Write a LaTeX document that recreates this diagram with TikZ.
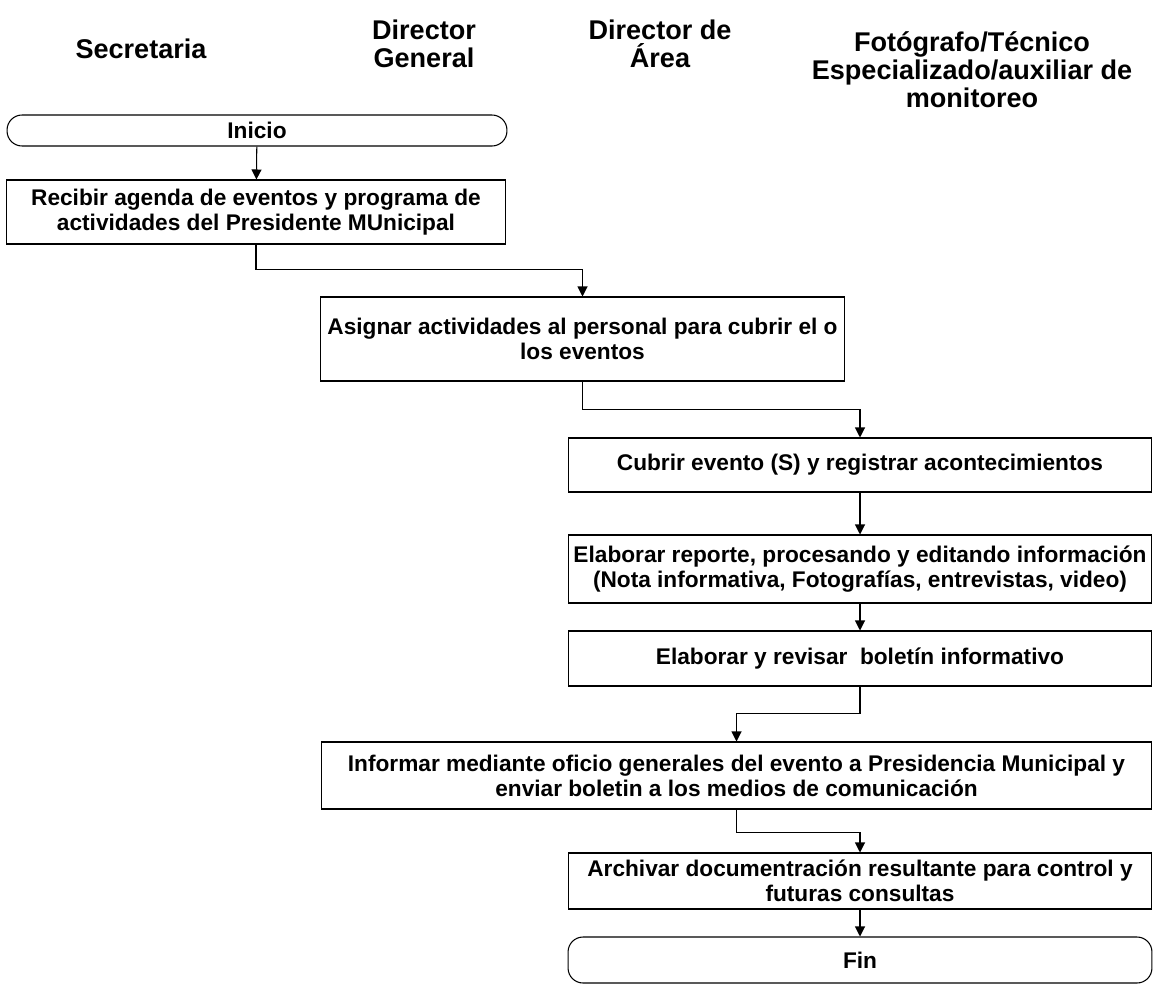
\documentclass[tikz,border=0pt]{standalone}
\usepackage{fontspec}
\setmainfont{Liberation Sans}
\usepackage{tikz}
\usetikzlibrary{arrows.meta,positioning,shapes}

\begin{document}
\begin{tikzpicture}[
		x=0.02cm, y=-0.02cm,
		proceso/.style={rectangle, draw, line width=0.6pt, align=center, inner sep=0pt,
			font=\fontsize{12.9}{14.2}\selectfont\bfseries},
		terminal/.style={proceso, rounded corners=0.3cm},
		cabecera/.style={align=center, inner sep=0pt, font=\fontsize{15.4}{15.9}\selectfont\bfseries},
		flecha/.style={line width=0.6pt, -{Triangle[length=0.2cm, width=0.2cm]}}
		]
	
		\useasboundingbox (0,0) rectangle (1157,984);
	
		% encabezados
		\node[cabecera] (hSec) at (141, 49) {Secretaria};
		\node[cabecera] (hDG) at (424, 44) {Director\\General};
		\node[cabecera] (hDA) at (660, 44) {Director de\\Área};
		\node[cabecera] (hFot) at (972, 70) {Fotógrafo/Técnico\\Especializado/auxiliar de\\monitoreo};
	
		% actividades
		\node[terminal, minimum width=10cm, minimum height=0.62cm] (ini) at (257, 130.5) {Inicio};
		\node[proceso, minimum width=10cm, minimum height=1.28cm] (recibir) at (256, 212) {Recibir agenda de eventos y programa de\\actividades del Presidente MUnicipal};
		\node[proceso, minimum width=10.5cm, minimum height=1.68cm] (asignar) at (582.5, 339) {Asignar actividades al personal para cubrir el o\\los eventos};
		\node[proceso, minimum width=11.68cm, minimum height=1.08cm] (cubrir) at (860, 465) {Cubrir evento (S) y registrar acontecimientos};
		\node[proceso, minimum width=11.68cm, minimum height=1.36cm] (reporte) at (860, 569) {Elaborar reporte, procesando y editando información\\(Nota informativa, Fotografías, entrevistas, video)};
		\node[proceso, minimum width=11.68cm, minimum height=1.1cm] (boletin) at (860, 658.5) {Elaborar y revisar\ \ boletín informativo};
		\node[proceso, minimum width=16.62cm, minimum height=1.34cm] (informar) at (736.5, 775.5) {Informar mediante oficio generales del evento a Presidencia Municipal y\\enviar boletin a los medios de comunicación};
		\node[proceso, minimum width=11.68cm, minimum height=1.12cm] (archivar) at (860, 881) {Archivar documentración resultante para control y\\futuras consultas};
		\node[terminal, minimum width=11.68cm, minimum height=0.92cm] (fin) at (860, 960) {Fin};
	
		% conectores
		\draw[flecha] (ini) -- (recibir);
		\draw[flecha] (recibir.south) -- ++(0, 25) -| (asignar.north);
		\draw[flecha] (asignar.south) -- ++(0, 28) -| (cubrir.north);
		\draw[flecha] (cubrir) -- (reporte);
		\draw[flecha] (reporte) -- (boletin);
		\draw[flecha] (boletin.south) -- ++(0, 27) -| (informar.north);
		\draw[flecha] (informar.south) -- ++(0, 23) -| (archivar.north);
		\draw[flecha] (archivar) -- (fin);
	
	\end{tikzpicture}
\end{document}
